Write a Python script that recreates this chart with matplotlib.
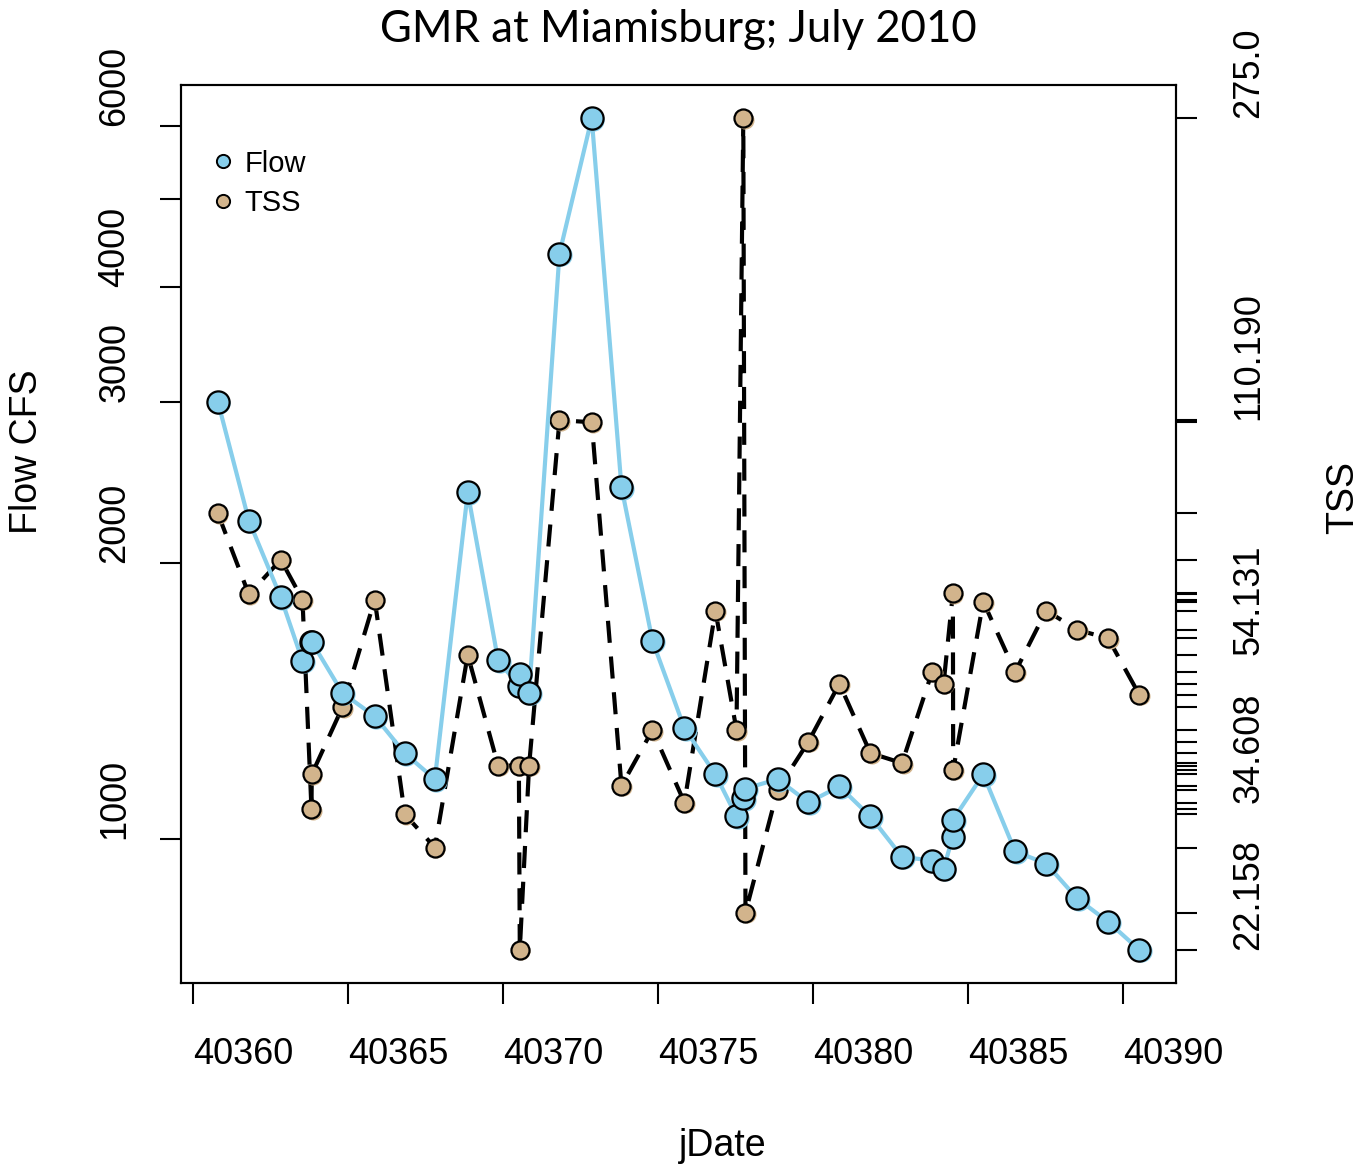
import numpy as np
import matplotlib
matplotlib.use('Agg')
import matplotlib.pyplot as plt
from matplotlib.lines import Line2D
from matplotlib.transforms import offset_copy
from matplotlib.ticker import NullLocator

plt.rcParams['font.family'] = ['Liberation Sans', 'DejaVu Sans']

# samples (jDate, daily flow in CFS, TSS)
jdate = [40360.79, 40361.79, 40362.82, 40363.52, 40363.81, 40363.82, 40364.81,
         40365.85, 40366.82, 40367.79, 40368.85, 40369.83, 40370.50, 40370.53,
         40370.83, 40371.81, 40372.85, 40373.81, 40374.81, 40375.84, 40376.84,
         40377.52, 40377.74, 40377.81, 40378.85, 40379.84, 40380.84, 40381.84,
         40382.86, 40383.83, 40384.20, 40384.50, 40384.51, 40385.48, 40386.51,
         40387.51, 40388.51, 40389.51, 40390.51]
flow = [3000, 2225, 1834, 1563, 1640, 1640, 1442, 1360, 1239, 1161, 2388, 1565,
        1468, 1512, 1442, 4355, 6120, 2419, 1644, 1320, 1175, 1057, 1106, 1134,
        1161, 1095, 1140, 1057, 955, 946, 927, 1005, 1049, 1175, 968, 939, 860,
        811, 756]
tss = [83.1, 65.0, 72.2, 64.0, 33.9, 37.7, 46.2, 64.0, 33.4, 30.2, 54.131, 38.7,
       38.7, 22.158, 38.7, 110.19, 109.5, 36.4, 43.1, 34.608, 61.9, 43.1, 275.0,
       24.8, 36.0, 41.6, 49.6, 40.2, 39.0, 51.4, 49.6, 65.2, 38.2, 63.6, 51.4,
       61.9, 58.4, 56.9, 48.0]

x_ticks = [40360, 40365, 40370, 40375, 40380, 40385, 40390]
flow_ticks = [1000, 2000, 3000, 4000, 5000, 6000]
flow_labels = ['1000', '2000', '3000', '4000', '', '6000']
tss_label_vals = [22.158, 34.608, 54.131, 110.19, 275.0]
tss_label_text = ['22.158', '34.608', '54.131', '110.190', '275.0']

FLOW_COL = '#87CEEB'
TSS_COL = '#D2B48C'
FS = 26


def pad_range(v, log=False, f=0.04):
    v = np.asarray(v, dtype=float)
    if log:
        v = np.log10(v)
    lo, hi = v.min(), v.max()
    r = hi - lo
    lo, hi = lo - f * r, hi + f * r
    return (10 ** lo, 10 ** hi) if log else (lo, hi)


fig = plt.figure(figsize=(13.64, 11.64), dpi=100)
ax = fig.add_axes([0.1327, 0.1555, 0.7295, 0.7715])
ax2 = ax.twinx()
ax.set_zorder(ax2.get_zorder() + 1)
ax.patch.set_visible(False)

# TSS (right axis, underneath)
sh2 = offset_copy(ax2.transData, fig=fig, x=1.5, y=-1.5, units='dots')
ax2.plot(jdate, tss, color='black', lw=3, dashes=(5.3, 3.3))
ax2.plot(jdate, tss, ls='none', marker='o', ms=13, mfc=TSS_COL, mec='none', transform=sh2)
ax2.plot(jdate, tss, ls='none', marker='o', ms=13, mfc=TSS_COL, mec='black', mew=1.6)

# Flow (left axis, on top)
sh = offset_copy(ax.transData, fig=fig, x=1.5, y=-1.5, units='dots')
ax.plot(jdate, flow, color=FLOW_COL, lw=3)
ax.plot(jdate, flow, ls='none', marker='o', ms=16, mfc=FLOW_COL, mec='none', transform=sh)
ax.plot(jdate, flow, ls='none', marker='o', ms=16, mfc=FLOW_COL, mec='black', mew=1.6)

ax.set_yscale('log')
ax2.set_yscale('log')
ax.set_xlim(*pad_range(jdate))
ax.set_ylim(*pad_range(flow, log=True))
ax2.set_ylim(*pad_range(tss, log=True))

for a in (ax, ax2):
    a.yaxis.set_minor_locator(NullLocator())
    for sp in a.spines.values():
        sp.set_linewidth(1.5)

ax.set_xticks(x_ticks)
ax.set_xticklabels([str(t) for t in x_ticks], ha='left')
ax.set_yticks(flow_ticks)
ax.set_yticklabels(flow_labels, rotation=90, va='bottom')

# rug of every TSS value, labels only on a few
tss_ticks = sorted(set(tss))
tss_lab = []
for t in tss_ticks:
    lab = ''
    for v, s in zip(tss_label_vals, tss_label_text):
        if abs(v - t) < 1e-6:
            lab = s
    tss_lab.append(lab)
ax2.set_yticks(tss_ticks)
ax2.set_yticklabels(tss_lab, rotation=90, va='bottom', ha='left')

ax.tick_params(axis='x', length=15, width=1.5, labelsize=FS, pad=24)
ax.tick_params(axis='y', length=15, width=1.5, labelsize=FS, pad=20)
ax2.tick_params(axis='y', length=15, width=1.5, labelsize=FS, pad=25)

ax.set_xlabel('jDate', fontsize=27, ha='left')
ax.xaxis.set_label_coords(0.5, -0.161)
ax.set_ylabel('Flow CFS', fontsize=27, ha='left')
ax.yaxis.set_label_coords(-0.137, 0.5)
ax2.set_ylabel('TSS', fontsize=27, ha='left')
ax2.yaxis.set_label_coords(1.15, 0.5)

fig.text(0.497, 1 - 29 / 1164, 'GMR at Miamisburg; July 2010', ha='center', va='center',
         fontsize=31.5, family=['Lato', 'DejaVu Sans'])

handles = [Line2D([], [], ls='none', marker='o', ms=9.5, mfc=FLOW_COL, mec='black', mew=1.4),
           Line2D([], [], ls='none', marker='o', ms=9.5, mfc=TSS_COL, mec='black', mew=1.4)]
ax.legend(handles, ['Flow', 'TSS'], loc='upper left', bbox_to_anchor=(0.033, 0.928),
          frameon=False, fontsize=21, handlelength=0.6, handletextpad=0.45,
          labelspacing=0.4, borderpad=0, borderaxespad=0)

fig.savefig('out.png', dpi=100, facecolor='white')
